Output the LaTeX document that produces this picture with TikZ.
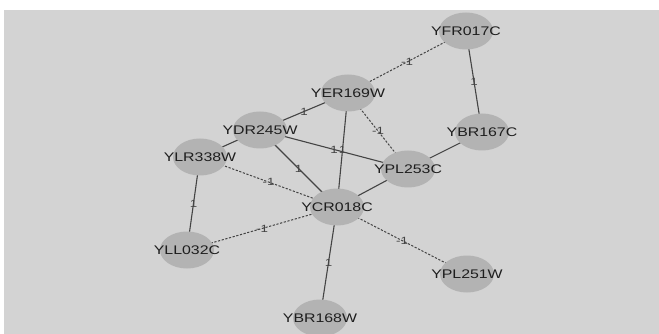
\documentclass[tikz,border=0pt]{standalone}
\usepackage{fontspec}
\setmainfont{Liberation Sans}
\usetikzlibrary{shapes.geometric}
\definecolor{bg}{HTML}{D3D3D3}
\definecolor{nodefill}{HTML}{B3B3B3}
\definecolor{edgecol}{HTML}{444444}
\definecolor{txt}{HTML}{1E1E1E}
\newcommand{\gl}[1]{\scalebox{1.27}[1]{#1}}
\pgfdeclarelayer{bglayer}
\pgfdeclarelayer{edgelayer}
\pgfsetlayers{bglayer,edgelayer,main}
\begin{document}
\begin{tikzpicture}[x=1pt,y=-1pt,
  gene/.style={ellipse,fill=nodefill,minimum width=54pt,minimum height=37pt,inner sep=0pt},
  genetext/.style={text=txt,font=\fontsize{12.5}{13}\selectfont,inner sep=0pt},
  posedge/.style={draw=edgecol,line width=1.1pt},
  negedge/.style={draw=edgecol,line width=1pt,dash pattern=on 2.2pt off 1.6pt},
  elab/.style={font=\fontsize{10.5}{11}\selectfont,text=edgecol,inner sep=0pt,midway}]
\useasboundingbox (0,0) rectangle (659,334);
\begin{pgfonlayer}{bglayer}
\fill[white] (0,0) rectangle (659,334);
\fill[bg] (4,10) rectangle (659,334);
\end{pgfonlayer}
\node[gene,label={[genetext]center:\gl{YFR017C}}] (YFR) at (466,31) {};
\node[gene,label={[genetext]center:\gl{YER169W}}] (YER) at (348,93) {};
\node[gene,label={[genetext]center:\gl{YDR245W}}] (YDR) at (260,130) {};
\node[gene,label={[genetext]center:\gl{YBR167C}}] (YBR7) at (482,132) {};
\node[gene,label={[genetext]center:\gl{YLR338W}}] (YLR) at (200,157) {};
\node[gene,label={[genetext]center:\gl{YPL253C}}] (YPL3) at (408,169) {};
\node[gene,label={[genetext]center:\gl{YCR018C}}] (YCR) at (337,207) {};
\node[gene,label={[genetext]center:\gl{YLL032C}}] (YLL) at (187,250) {};
\node[gene,label={[genetext]center:\gl{YPL251W}}] (YPL1) at (467,274) {};
\node[gene,label={[genetext]center:\gl{YBR168W}}] (YBR8) at (320,318) {};
\begin{pgfonlayer}{edgelayer}
\draw[negedge] (YFR.center) -- node[elab]{\gl{-1}} (YER.center);
\draw[posedge] (YFR.center) -- node[elab]{\gl{1}} (YBR7.center);
\draw[posedge] (YER.center) -- node[elab]{\gl{1}} (YDR.center);
\draw[posedge] (YER.center) -- node[elab]{\gl{1}} (YCR.center);
\draw[negedge] (YER.center) -- node[elab]{\gl{-1}} (YPL3.center);
\draw[posedge] (YDR.center) -- (YLR.center);
\draw[posedge] (YDR.center) -- node[elab]{\gl{1}} (YCR.center);
\draw[posedge] (YDR.center) -- node[elab]{\gl{1}} (YPL3.center);
\draw[posedge] (YBR7.center) -- (YPL3.center);
\draw[negedge] (YLR.center) -- node[elab]{\gl{-1}} (YCR.center);
\draw[posedge] (YLR.center) -- node[elab]{\gl{1}} (YLL.center);
\draw[posedge] (YPL3.center) -- (YCR.center);
\draw[negedge] (YCR.center) -- node[elab]{\gl{-1}} (YLL.center);
\draw[negedge] (YCR.center) -- node[elab]{\gl{-1}} (YPL1.center);
\draw[posedge] (YCR.center) -- node[elab]{\gl{1}} (YBR8.center);
\end{pgfonlayer}
\end{tikzpicture}
\end{document}
